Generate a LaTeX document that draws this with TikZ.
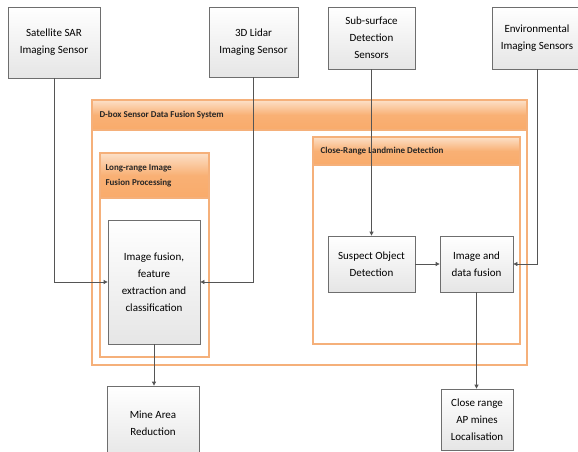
\documentclass[tikz,border=0pt]{standalone}
\usepackage{fontspec}
\setmainfont{Carlito}
\usetikzlibrary{arrows.meta,shadows}
\definecolor{obd}{HTML}{F5B07A}
\definecolor{ohd}{HTML}{F79646}
\definecolor{ohl}{HTML}{FCE0C8}
\definecolor{gbd}{HTML}{6E6E6E}
\definecolor{lnc}{HTML}{555555}
\begin{document}
\begin{tikzpicture}[x=1pt,y=-1pt,
  box/.style={draw=gbd, line width=0.8pt, top color=white, bottom color=black!10,
    align=center, font=\fontsize{11}{17}\selectfont, inner sep=2pt,
    drop shadow={shadow xshift=1.2pt, shadow yshift=-1.2pt, opacity=0.25}},
  cont/.style={draw=obd, line width=1.2pt, fill=white},
  head/.style={draw=obd, line width=1.2pt, top color=ohl, bottom color=ohd!80, middle color=ohd!75},
  htext/.style={anchor=west, align=left, font=\fontsize{9}{15}\selectfont\bfseries, text=black!85},
  conn/.style={draw=lnc, line width=0.8pt, -{Triangle[length=4pt,width=4pt]}}]
\useasboundingbox (0,0) rectangle (578,452);
\fill[white] (0,0) rectangle (578,452);
% sensors
\node[box, minimum width=92pt, minimum height=71pt] (sar) at (54,42.5) {Satellite SAR\\Imaging Sensor};
\node[box, minimum width=89pt, minimum height=70pt] (lidar) at (253.5,42) {3D Lidar\\Imaging Sensor};
\node[box, minimum width=87pt, minimum height=62pt] (sub) at (371.5,38) {Sub-surface\\Detection\\Sensors};
\node[box, minimum width=90pt, minimum height=62pt] (env) at (537,38) {Environmental\\Imaging Sensors};
% containers
\draw[cont] (92,100) rectangle (527,365);
\draw[head] (92,100) rectangle (527,130);
\node[htext] (dboxt) at (96,115) {D-box Sensor Data Fusion System};
\draw[cont] (100,153) rectangle (209,357);
\draw[head] (100,153) rectangle (209,198);
\node[htext] (lrt) at (102,175.5) {Long-range Image\\Fusion Processing};
\draw[cont] (313,137) rectangle (520,344);
\draw[head] (313,137) rectangle (520,165);
\node[htext] (crt) at (317,151) {Close-Range Landmine Detection};
% inner boxes
\node[box, minimum width=92pt, minimum height=124pt] (ifx) at (154,282) {Image fusion,\\feature\\extraction and\\classification};
\node[box, minimum width=87pt, minimum height=56pt] (sod) at (371.5,264) {Suspect Object\\Detection};
\node[box, minimum width=73pt, minimum height=56pt] (idf) at (476.5,264) {Image and\\data fusion};
% outputs
\node[box, minimum width=92pt, minimum height=74pt] (mar) at (153,423) {Mine Area\\Reduction};
\node[box, minimum width=72pt, minimum height=61pt] (cap) at (477,419.5) {Close range\\AP mines\\Localisation};
% connectors
\draw[conn] (sar.south) |- (ifx.west);
\draw[conn] (lidar.south) |- (ifx.east);
\draw[conn] (sub.south) -- (sod.north);
\draw[conn] (env.south) |- (idf.east);
\draw[conn] (sod.east) -- (idf.west);
\draw[conn] (ifx.south) -- (ifx.south |- mar.north);
\draw[conn] (idf.south) -- (idf.south |- cap.north);
\end{tikzpicture}
\end{document}
